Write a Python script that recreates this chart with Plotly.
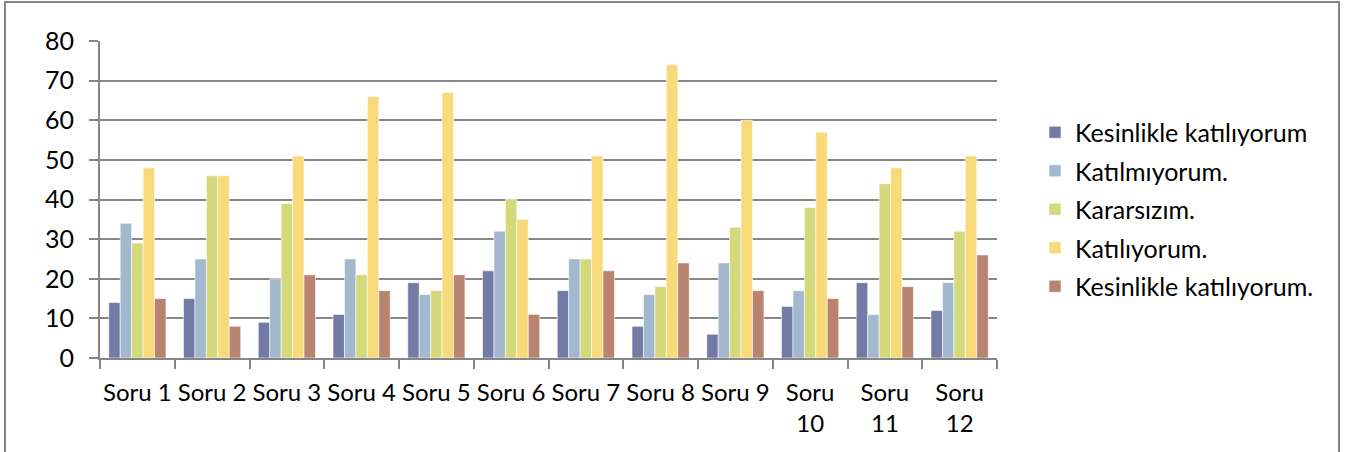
import plotly.graph_objects as go

categories = ["Soru 1", "Soru 2", "Soru 3", "Soru 4", "Soru 5", "Soru 6",
              "Soru 7", "Soru 8", "Soru 9", "Soru<br>10", "Soru<br>11", "Soru<br>12"]
series_names = ["Kesinlikle katılıyorum", "Katılmıyorum.", "Kararsızım.",
                "Katılıyorum.", "Kesinlikle katılıyorum."]
kesinlikle_1 = [14, 15, 9, 11, 19, 22, 17, 8, 6, 13, 19, 12]
katilmiyorum = [34, 25, 20, 25, 16, 32, 25, 16, 24, 17, 11, 19]
kararsizim = [29, 46, 39, 21, 17, 40, 25, 18, 33, 38, 44, 32]
katiliyorum = [48, 46, 51, 66, 67, 35, 51, 74, 60, 57, 48, 51]
kesinlikle_2 = [15, 8, 21, 17, 21, 11, 22, 24, 17, 15, 18, 26]
y_ticks = [0, 10, 20, 30, 40, 50, 60, 70, 80]

colors = ["#727BA3", "#A2B8CF", "#D4DA7B", "#F9DA7B", "#B8836F"]
values = [kesinlikle_1, katilmiyorum, kararsizim, katiliyorum, kesinlikle_2]

FONT = "Lato"
fig = go.Figure()
for i, (name, vals, col) in enumerate(zip(series_names, values, colors)):
    fig.add_trace(go.Bar(
        x=categories, y=vals, name=name, legendgroup=f"g{i}",
        marker=dict(color=col, line=dict(color="rgba(255,255,255,0.7)", width=0.8)),
    ))

W, H = 1345, 452
L, R, T, B = 100, 997, 41, 358
fig.update_layout(
    width=W, height=H,
    margin=dict(l=L, r=W - R, t=T, b=H - B, pad=0, autoexpand=False),
    paper_bgcolor="white", plot_bgcolor="white",
    barmode="group", bargap=0.235, bargroupgap=0,
    font=dict(family=FONT, size=25, color="black"),
    showlegend=True,
    legend=dict(x=(1035 - L) / (R - L), xanchor="left",
                y=(B - 209.5) / (B - T), yanchor="middle",
                font=dict(family=FONT, size=25, color="black"),
                tracegroupgap=3, traceorder="grouped", bgcolor="rgba(0,0,0,0)"),
    xaxis=dict(type="category", showgrid=False, showline=True, linecolor="#868686",
               linewidth=2, ticks="outside", tickson="boundaries", ticklen=9,
               tickcolor="#868686", tickwidth=2, tickangle=0, automargin=False,
               tickfont=dict(family=FONT, size=24), ticklabelstandoff=12),
    yaxis=dict(range=[0, 80], tickvals=y_ticks, showgrid=True, gridcolor="#878787",
               gridwidth=2, showline=True, linecolor="#868686", linewidth=2,
               ticks="outside", ticklen=9, tickcolor="#868686", tickwidth=2,
               tickfont=dict(family=FONT, size=25), zeroline=False, automargin=False,
               ticklabelstandoff=10),
)
fig.add_shape(type="rect", xref="paper", yref="paper",
              x0=(5 - L) / (R - L), x1=(1339 - L) / (R - L),
              y0=-0.5, y1=(B - 2) / (B - T),
              line=dict(color="#868686", width=2), fillcolor="rgba(0,0,0,0)", layer="below")
fig.write_html("out.html", config={"displayModeBar": False},
               post_script="document.body.style.margin='0';document.body.style.overflow='hidden';")
